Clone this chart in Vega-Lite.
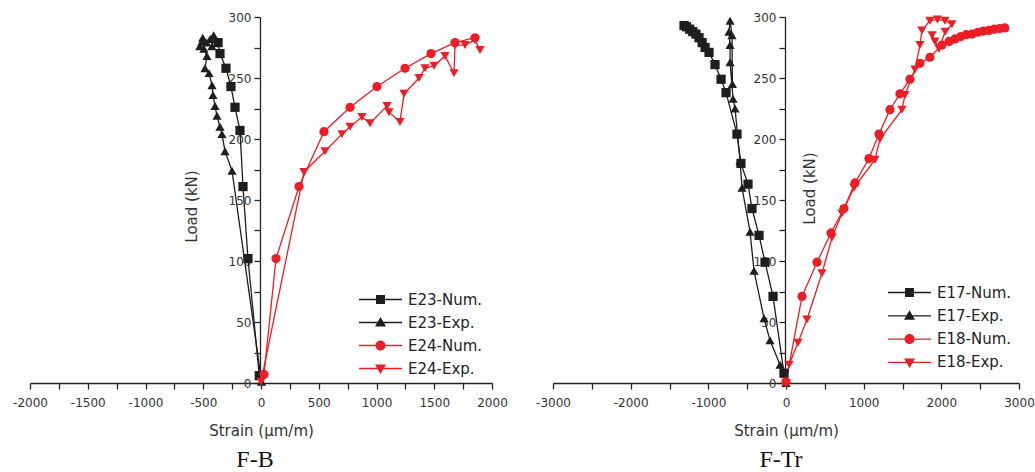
{
  "$schema": "https://vega.github.io/schema/vega-lite/v6.json",
  "background": "white",
  "padding": {"left": 12, "top": 11, "right": 0, "bottom": 0},
  "config": {"view": {"stroke": null}, "font": "DejaVu Sans"},
  "datasets": {
    "fb": [
      {"s": "E23-Num.", "i": 0, "x": -15, "y": 6},
      {"s": "E23-Num.", "i": 1, "x": -113, "y": 102},
      {"s": "E23-Num.", "i": 2, "x": -156, "y": 161},
      {"s": "E23-Num.", "i": 3, "x": -182, "y": 207},
      {"s": "E23-Num.", "i": 4, "x": -225, "y": 226},
      {"s": "E23-Num.", "i": 5, "x": -260, "y": 243},
      {"s": "E23-Num.", "i": 6, "x": -303, "y": 258},
      {"s": "E23-Num.", "i": 7, "x": -355, "y": 270},
      {"s": "E23-Num.", "i": 8, "x": -372, "y": 279},
      {"s": "E23-Exp.", "i": 0, "x": 5, "y": 1},
      {"s": "E23-Exp.", "i": 1, "x": -251, "y": 174},
      {"s": "E23-Exp.", "i": 2, "x": -312, "y": 190},
      {"s": "E23-Exp.", "i": 3, "x": -338, "y": 204},
      {"s": "E23-Exp.", "i": 4, "x": -355, "y": 210},
      {"s": "E23-Exp.", "i": 5, "x": -381, "y": 219},
      {"s": "E23-Exp.", "i": 6, "x": -398, "y": 227},
      {"s": "E23-Exp.", "i": 7, "x": -416, "y": 236},
      {"s": "E23-Exp.", "i": 8, "x": -424, "y": 244},
      {"s": "E23-Exp.", "i": 9, "x": -450, "y": 254},
      {"s": "E23-Exp.", "i": 10, "x": -485, "y": 258},
      {"s": "E23-Exp.", "i": 11, "x": -468, "y": 268},
      {"s": "E23-Exp.", "i": 12, "x": -494, "y": 274},
      {"s": "E23-Exp.", "i": 13, "x": -511, "y": 280},
      {"s": "E23-Exp.", "i": 14, "x": -530, "y": 276},
      {"s": "E23-Exp.", "i": 15, "x": -505, "y": 283},
      {"s": "E23-Exp.", "i": 16, "x": -470, "y": 279},
      {"s": "E23-Exp.", "i": 17, "x": -440, "y": 282},
      {"s": "E23-Exp.", "i": 18, "x": -410, "y": 285},
      {"s": "E23-Exp.", "i": 19, "x": -425, "y": 276},
      {"s": "E24-Num.", "i": 0, "x": 26, "y": 7},
      {"s": "E24-Num.", "i": 1, "x": 130, "y": 102},
      {"s": "E24-Num.", "i": 2, "x": 329, "y": 161},
      {"s": "E24-Num.", "i": 3, "x": 545, "y": 206},
      {"s": "E24-Num.", "i": 4, "x": 771, "y": 226},
      {"s": "E24-Num.", "i": 5, "x": 1004, "y": 243},
      {"s": "E24-Num.", "i": 6, "x": 1247, "y": 258},
      {"s": "E24-Num.", "i": 7, "x": 1472, "y": 270},
      {"s": "E24-Num.", "i": 8, "x": 1680, "y": 279},
      {"s": "E24-Num.", "i": 9, "x": 1853, "y": 283},
      {"s": "E24-Exp.", "i": 0, "x": 0, "y": 1},
      {"s": "E24-Exp.", "i": 1, "x": 372, "y": 173},
      {"s": "E24-Exp.", "i": 2, "x": 554, "y": 190},
      {"s": "E24-Exp.", "i": 3, "x": 701, "y": 204},
      {"s": "E24-Exp.", "i": 4, "x": 771, "y": 210},
      {"s": "E24-Exp.", "i": 5, "x": 874, "y": 218},
      {"s": "E24-Exp.", "i": 6, "x": 944, "y": 213},
      {"s": "E24-Exp.", "i": 7, "x": 1091, "y": 227},
      {"s": "E24-Exp.", "i": 8, "x": 1108, "y": 222},
      {"s": "E24-Exp.", "i": 9, "x": 1203, "y": 214},
      {"s": "E24-Exp.", "i": 10, "x": 1238, "y": 237},
      {"s": "E24-Exp.", "i": 11, "x": 1368, "y": 250},
      {"s": "E24-Exp.", "i": 12, "x": 1420, "y": 258},
      {"s": "E24-Exp.", "i": 13, "x": 1498, "y": 260},
      {"s": "E24-Exp.", "i": 14, "x": 1593, "y": 268},
      {"s": "E24-Exp.", "i": 15, "x": 1671, "y": 254},
      {"s": "E24-Exp.", "i": 16, "x": 1680, "y": 277},
      {"s": "E24-Exp.", "i": 17, "x": 1766, "y": 277},
      {"s": "E24-Exp.", "i": 18, "x": 1853, "y": 281},
      {"s": "E24-Exp.", "i": 19, "x": 1896, "y": 273}
    ],
    "ftr": [
      {"s": "E17-Num.", "i": 0, "x": -26, "y": 8},
      {"s": "E17-Num.", "i": 1, "x": -167, "y": 71},
      {"s": "E17-Num.", "i": 2, "x": -270, "y": 99},
      {"s": "E17-Num.", "i": 3, "x": -347, "y": 121},
      {"s": "E17-Num.", "i": 4, "x": -438, "y": 143},
      {"s": "E17-Num.", "i": 5, "x": -489, "y": 163},
      {"s": "E17-Num.", "i": 6, "x": -580, "y": 180},
      {"s": "E17-Num.", "i": 7, "x": -631, "y": 204},
      {"s": "E17-Num.", "i": 8, "x": -772, "y": 238},
      {"s": "E17-Num.", "i": 9, "x": -836, "y": 249},
      {"s": "E17-Num.", "i": 10, "x": -914, "y": 261},
      {"s": "E17-Num.", "i": 11, "x": -991, "y": 271},
      {"s": "E17-Num.", "i": 12, "x": -1042, "y": 275},
      {"s": "E17-Num.", "i": 13, "x": -1080, "y": 279},
      {"s": "E17-Num.", "i": 14, "x": -1120, "y": 283},
      {"s": "E17-Num.", "i": 15, "x": -1160, "y": 286},
      {"s": "E17-Num.", "i": 16, "x": -1200, "y": 288},
      {"s": "E17-Num.", "i": 17, "x": -1240, "y": 290},
      {"s": "E17-Num.", "i": 18, "x": -1280, "y": 292},
      {"s": "E17-Num.", "i": 19, "x": -1313, "y": 293},
      {"s": "E17-Exp.", "i": 0, "x": 0, "y": 0},
      {"s": "E17-Exp.", "i": 1, "x": -77, "y": 15},
      {"s": "E17-Exp.", "i": 2, "x": -206, "y": 35},
      {"s": "E17-Exp.", "i": 3, "x": -283, "y": 53},
      {"s": "E17-Exp.", "i": 4, "x": -412, "y": 92},
      {"s": "E17-Exp.", "i": 5, "x": -463, "y": 124},
      {"s": "E17-Exp.", "i": 6, "x": -566, "y": 160},
      {"s": "E17-Exp.", "i": 7, "x": -592, "y": 182},
      {"s": "E17-Exp.", "i": 8, "x": -656, "y": 225},
      {"s": "E17-Exp.", "i": 9, "x": -682, "y": 233},
      {"s": "E17-Exp.", "i": 10, "x": -720, "y": 263},
      {"s": "E17-Exp.", "i": 11, "x": -720, "y": 277},
      {"s": "E17-Exp.", "i": 12, "x": -734, "y": 288},
      {"s": "E17-Exp.", "i": 13, "x": -720, "y": 297},
      {"s": "E17-Exp.", "i": 14, "x": -695, "y": 285},
      {"s": "E17-Exp.", "i": 15, "x": -690, "y": 245},
      {"s": "E18-Num.", "i": 0, "x": 0, "y": 1},
      {"s": "E18-Num.", "i": 1, "x": 206, "y": 71},
      {"s": "E18-Num.", "i": 2, "x": 399, "y": 99},
      {"s": "E18-Num.", "i": 3, "x": 579, "y": 123},
      {"s": "E18-Num.", "i": 4, "x": 746, "y": 143},
      {"s": "E18-Num.", "i": 5, "x": 888, "y": 164},
      {"s": "E18-Num.", "i": 6, "x": 1068, "y": 184},
      {"s": "E18-Num.", "i": 7, "x": 1197, "y": 204},
      {"s": "E18-Num.", "i": 8, "x": 1338, "y": 224},
      {"s": "E18-Num.", "i": 9, "x": 1467, "y": 237},
      {"s": "E18-Num.", "i": 10, "x": 1596, "y": 249},
      {"s": "E18-Num.", "i": 11, "x": 1725, "y": 262},
      {"s": "E18-Num.", "i": 12, "x": 1853, "y": 267},
      {"s": "E18-Num.", "i": 13, "x": 2008, "y": 277},
      {"s": "E18-Num.", "i": 14, "x": 2100, "y": 280},
      {"s": "E18-Num.", "i": 15, "x": 2175, "y": 282},
      {"s": "E18-Num.", "i": 16, "x": 2250, "y": 284},
      {"s": "E18-Num.", "i": 17, "x": 2320, "y": 285.5},
      {"s": "E18-Num.", "i": 18, "x": 2394, "y": 286},
      {"s": "E18-Num.", "i": 19, "x": 2470, "y": 287.5},
      {"s": "E18-Num.", "i": 20, "x": 2540, "y": 288.5},
      {"s": "E18-Num.", "i": 21, "x": 2612, "y": 289},
      {"s": "E18-Num.", "i": 22, "x": 2680, "y": 290},
      {"s": "E18-Num.", "i": 23, "x": 2750, "y": 290.5},
      {"s": "E18-Num.", "i": 24, "x": 2818, "y": 291},
      {"s": "E18-Exp.", "i": 0, "x": 0, "y": 0},
      {"s": "E18-Exp.", "i": 1, "x": 39, "y": 15},
      {"s": "E18-Exp.", "i": 2, "x": 154, "y": 33},
      {"s": "E18-Exp.", "i": 3, "x": 270, "y": 52},
      {"s": "E18-Exp.", "i": 4, "x": 463, "y": 90},
      {"s": "E18-Exp.", "i": 5, "x": 592, "y": 119},
      {"s": "E18-Exp.", "i": 6, "x": 720, "y": 139},
      {"s": "E18-Exp.", "i": 7, "x": 875, "y": 160},
      {"s": "E18-Exp.", "i": 8, "x": 1145, "y": 183},
      {"s": "E18-Exp.", "i": 9, "x": 1210, "y": 200},
      {"s": "E18-Exp.", "i": 10, "x": 1493, "y": 224},
      {"s": "E18-Exp.", "i": 11, "x": 1531, "y": 236},
      {"s": "E18-Exp.", "i": 12, "x": 1660, "y": 257},
      {"s": "E18-Exp.", "i": 13, "x": 1725, "y": 277},
      {"s": "E18-Exp.", "i": 14, "x": 1750, "y": 289},
      {"s": "E18-Exp.", "i": 15, "x": 1853, "y": 297},
      {"s": "E18-Exp.", "i": 16, "x": 1950, "y": 298},
      {"s": "E18-Exp.", "i": 17, "x": 2046, "y": 297},
      {"s": "E18-Exp.", "i": 18, "x": 2136, "y": 294},
      {"s": "E18-Exp.", "i": 19, "x": 2050, "y": 288},
      {"s": "E18-Exp.", "i": 20, "x": 1969, "y": 274},
      {"s": "E18-Exp.", "i": 21, "x": 1918, "y": 280},
      {"s": "E18-Exp.", "i": 22, "x": 1880, "y": 285}
    ]
  },
  "bounds": "flush",
  "spacing": 61,
  "hconcat": [
    {
      "width": 462,
      "height": 366,
      "data": {"name": "fb"},
      "title": {"text": "F-B", "orient": "bottom", "font": "Liberation Serif", "fontSize": 24, "fontWeight": "normal", "color": "#111", "offset": 10, "dx": -6},
      "encoding": {
        "x": {"field": "x", "type": "quantitative",
          "scale": {"domain": [-2000, 2000], "nice": false, "zero": false},
          "axis": {"values": [-2000,-1750,-1500,-1250,-1000,-750,-500,-250,0,250,500,750,1000,1250,1500,1750,2000],
            "labelExpr": "datum.value % 500 === 0 ? '' + datum.value : ''",
            "labelOverlap": false, "labelFlush": false, "grid": false,
            "tickSize": 6, "tickColor": "#222", "domainColor": "#222", "domainWidth": 1.3, "tickWidth": 1.3,
            "labelPadding": 8, "labelFont": "DejaVu Sans", "labelFontSize": 12, "labelColor": "#333",
            "title": "Strain (μm/m)", "titleFont": "DejaVu Sans", "titleFontSize": 15, "titleFontWeight": "normal", "titleColor": "#333", "titlePadding": 15}},
        "y": {"field": "y", "type": "quantitative",
          "scale": {"domain": [0, 300], "nice": false},
          "axis": {"orient": "left", "offset": -230, "values": [0,25,50,75,100,125,150,175,200,225,250,275,300],
            "labelExpr": "datum.value % 50 === 0 ? '' + datum.value : ''",
            "labelOverlap": false, "grid": false,
            "tickSize": 6, "tickColor": "#222", "domainColor": "#222", "domainWidth": 1.3, "tickWidth": 1.3,
            "labelPadding": 3, "labelFont": "DejaVu Sans", "labelFontSize": 12, "labelColor": "#333",
            "title": "Load (kN)", "titleFont": "DejaVu Sans", "titleFontSize": 15, "titleFontWeight": "normal", "titleColor": "#333",
            "titleX": -69, "titleY": 189, "titleBaseline": "middle", "titleAlign": "center", "titleAngle": -90}}
      },
      "layer": [
        {
          "mark": {"type": "line", "strokeWidth": 1.3},
          "encoding": {
            "color": {"field": "s", "type": "nominal", "scale": {"domain": ["E23-Num.", "E23-Exp.", "E24-Num.", "E24-Exp."], "range": ["#1e1e1e", "#1e1e1e", "#ee1c25", "#ee1c25"]}, "legend": null},
            "detail": {"field": "s"},
            "order": {"field": "i", "type": "quantitative"}
          }
        },
        {
          "mark": {"type": "point", "filled": true, "size": 85, "opacity": 1},
          "encoding": {
            "color": {"field": "s", "type": "nominal", "scale": {"domain": ["E23-Num.", "E23-Exp.", "E24-Num.", "E24-Exp."], "range": ["#1e1e1e", "#1e1e1e", "#ee1c25", "#ee1c25"]}, "legend": null},
            "shape": {"field": "s", "type": "nominal", "scale": {"domain": ["E23-Num.", "E23-Exp.", "E24-Num.", "E24-Exp."], "range": ["square", "triangle-up", "circle", "triangle-down"]}, "legend": null}
          }
        },
        {
          "transform": [{"filter": "false"}],
          "mark": {"type": "point", "filled": true, "opacity": 1},
          "encoding": {
            "color": {"field": "s", "type": "nominal", "scale": {"domain": ["E23-Num.", "E23-Exp.", "E24-Num.", "E24-Exp."], "range": ["#1e1e1e", "#1e1e1e", "#ee1c25", "#ee1c25"]},
              "legend": {"orient": "none", "legendX": 343, "legendY": 275, "title": null, "padding": 0, "labelFont": "DejaVu Sans", "labelFontSize": 15, "labelColor": "#222", "labelOffset": 20, "symbolSize": 100, "symbolStrokeWidth": 0, "rowPadding": 7, "labelLimit": 200}},
            "shape": {"field": "s", "type": "nominal", "scale": {"domain": ["E23-Num.", "E23-Exp.", "E24-Num.", "E24-Exp."], "range": [
                "M-4.3,-0.13H4.3V0.13H-4.3Z M-0.9,-0.9H0.9V0.9H-0.9Z",
                "M-4.3,-0.13H4.3V0.13H-4.3Z M0,-1.1L1.1,0.8L-1.1,0.8Z",
                "M-4.3,-0.13H4.3V0.13H-4.3Z M-1,0A1,1 0 1,1 1,0A1,1 0 1,1 -1,0Z",
                "M-4.3,-0.13H4.3V0.13H-4.3Z M0,1.1L-1.1,-0.8L1.1,-0.8Z"]},
              "legend": {"orient": "none", "legendX": 343, "legendY": 275, "title": null, "padding": 0, "labelFont": "DejaVu Sans", "labelFontSize": 15, "labelColor": "#222", "labelOffset": 20, "symbolSize": 100, "symbolStrokeWidth": 0, "rowPadding": 7, "labelLimit": 200}}
          }
        }
      ],
      "resolve": {"scale": {"color": "independent", "shape": "independent"}}
    },
    {
      "width": 466,
      "height": 366,
      "data": {"name": "ftr"},
      "title": {"text": "F-Tr", "orient": "bottom", "font": "Liberation Serif", "fontSize": 24, "fontWeight": "normal", "color": "#111", "offset": 10, "dx": -5},
      "encoding": {
        "x": {"field": "x", "type": "quantitative",
          "scale": {"domain": [-3000, 3000], "nice": false, "zero": false},
          "axis": {"values": [-3000,-2500,-2000,-1500,-1000,-500,0,500,1000,1500,2000,2500,3000],
            "labelExpr": "datum.value % 1000 === 0 ? '' + datum.value : ''",
            "labelOverlap": false, "labelFlush": false, "grid": false,
            "tickSize": 6, "tickColor": "#222", "domainColor": "#222", "domainWidth": 1.3, "tickWidth": 1.3,
            "labelPadding": 8, "labelFont": "DejaVu Sans", "labelFontSize": 12, "labelColor": "#333",
            "title": "Strain (μm/m)", "titleFont": "DejaVu Sans", "titleFontSize": 15, "titleFontWeight": "normal", "titleColor": "#333", "titlePadding": 15}},
        "y": {"field": "y", "type": "quantitative",
          "scale": {"domain": [0, 300], "nice": false},
          "axis": {"orient": "left", "offset": -232, "values": [0,25,50,75,100,125,150,175,200,225,250,275,300],
            "labelExpr": "datum.value % 50 === 0 ? '' + datum.value : ''",
            "labelOverlap": false, "grid": false,
            "tickSize": 6, "tickColor": "#222", "domainColor": "#222", "domainWidth": 1.3, "tickWidth": 1.3,
            "labelPadding": 3, "labelFont": "DejaVu Sans", "labelFontSize": 12, "labelColor": "#333",
            "title": "Load (kN)", "titleFont": "DejaVu Sans", "titleFontSize": 15, "titleFontWeight": "normal", "titleColor": "#333",
            "titleX": 24, "titleY": 171, "titleBaseline": "middle", "titleAlign": "center", "titleAngle": -90}}
      },
      "layer": [
        {
          "mark": {"type": "line", "strokeWidth": 1.3},
          "encoding": {
            "color": {"field": "s", "type": "nominal", "scale": {"domain": ["E17-Num.", "E17-Exp.", "E18-Num.", "E18-Exp."], "range": ["#1e1e1e", "#1e1e1e", "#ee1c25", "#ee1c25"]}, "legend": null},
            "detail": {"field": "s"},
            "order": {"field": "i", "type": "quantitative"}
          }
        },
        {
          "mark": {"type": "point", "filled": true, "size": 85, "opacity": 1},
          "encoding": {
            "color": {"field": "s", "type": "nominal", "scale": {"domain": ["E17-Num.", "E17-Exp.", "E18-Num.", "E18-Exp."], "range": ["#1e1e1e", "#1e1e1e", "#ee1c25", "#ee1c25"]}, "legend": null},
            "shape": {"field": "s", "type": "nominal", "scale": {"domain": ["E17-Num.", "E17-Exp.", "E18-Num.", "E18-Exp."], "range": ["square", "triangle-up", "circle", "triangle-down"]}, "legend": null}
          }
        },
        {
          "transform": [{"filter": "false"}],
          "mark": {"type": "point", "filled": true, "opacity": 1},
          "encoding": {
            "color": {"field": "s", "type": "nominal", "scale": {"domain": ["E17-Num.", "E17-Exp.", "E18-Num.", "E18-Exp."], "range": ["#1e1e1e", "#1e1e1e", "#ee1c25", "#ee1c25"]},
              "legend": {"orient": "none", "legendX": 349, "legendY": 268, "title": null, "padding": 0, "labelFont": "DejaVu Sans", "labelFontSize": 15, "labelColor": "#222", "labelOffset": 20, "symbolSize": 100, "symbolStrokeWidth": 0, "rowPadding": 7.3, "labelLimit": 200}},
            "shape": {"field": "s", "type": "nominal", "scale": {"domain": ["E17-Num.", "E17-Exp.", "E18-Num.", "E18-Exp."], "range": [
                "M-4.3,-0.13H4.3V0.13H-4.3Z M-0.9,-0.9H0.9V0.9H-0.9Z",
                "M-4.3,-0.13H4.3V0.13H-4.3Z M0,-1.1L1.1,0.8L-1.1,0.8Z",
                "M-4.3,-0.13H4.3V0.13H-4.3Z M-1,0A1,1 0 1,1 1,0A1,1 0 1,1 -1,0Z",
                "M-4.3,-0.13H4.3V0.13H-4.3Z M0,1.1L-1.1,-0.8L1.1,-0.8Z"]},
              "legend": {"orient": "none", "legendX": 349, "legendY": 268, "title": null, "padding": 0, "labelFont": "DejaVu Sans", "labelFontSize": 15, "labelColor": "#222", "labelOffset": 20, "symbolSize": 100, "symbolStrokeWidth": 0, "rowPadding": 7.3, "labelLimit": 200}}
          }
        }
      ],
      "resolve": {"scale": {"color": "independent", "shape": "independent"}}
    }
  ]
}
